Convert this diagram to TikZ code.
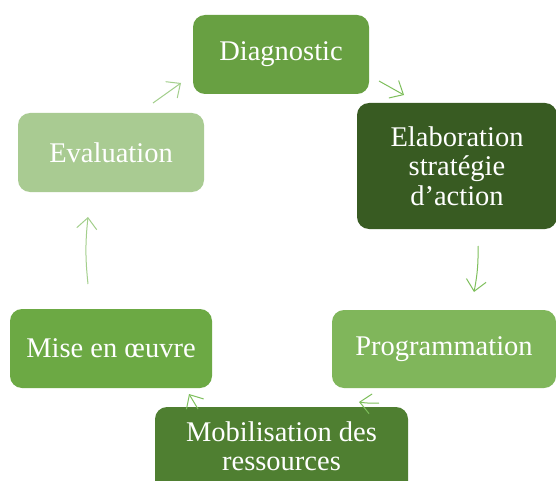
\documentclass[tikz,border=0pt]{standalone}
\usepackage{fontspec}
\setmainfont{Liberation Serif}
\usetikzlibrary{arrows.meta}
\definecolor{gDiag}{HTML}{68A042}
\definecolor{gElab}{HTML}{385B22}
\definecolor{gProg}{HTML}{80B65B}
\definecolor{gMob}{HTML}{4F7F31}
\definecolor{gMise}{HTML}{6CA944}
\definecolor{gEval}{HTML}{A9CB92}
\definecolor{gArrow}{HTML}{7EBF5C}
\definecolor{gArrowL}{HTML}{A3CF8C}
\tikzset{
  stagebox/.style={draw=none, rounded corners=12pt, text=white, align=center,
    font=\fontsize{28.5}{29.5}\selectfont, inner sep=0pt},
  stagetext/.style={text=white, align=center,
    font=\fontsize{28.5}{29.5}\selectfont, inner sep=0pt},
  cyc/.style={draw=gArrow, line width=1pt,
    -{Straight Barb[length=11pt, width=20pt, line width=1pt]}},
}
\begin{document}
\begin{tikzpicture}[x=1pt,y=-1pt]
\clip (0,0) rectangle (556,481);
\fill[white] (0,0) rectangle (556,481);
% stages of the cycle
\node[stagebox, fill=gDiag, minimum width=176pt, minimum height=79pt] (diag) at (281,54.5) {Diagnostic};
\node[stagebox, fill=gElab, minimum width=200pt, minimum height=126pt] (elab) at (457,166) {Elaboration\\strat\'egie\\d'action};
\node[stagebox, fill=gProg, minimum width=224pt, minimum height=78pt] (prog) at (444,349) {Programmation};
\node[stagebox, fill=gMob, minimum width=253pt, minimum height=100pt] (mob) at (281.5,457) {};
\node[stagetext] (mobtext) at (281.5,446) {Mobilisation des\\ressources};
\node[stagebox, fill=gMise, minimum width=202pt, minimum height=79pt] (mise) at (111,348.5) {Mise en œuvre};
\node[stagebox, fill=gEval, minimum width=186pt, minimum height=79pt] (eval) at (111,152.5) {Evaluation};
% connectors between the stages
\coordinate (a1s) at (153,103); \coordinate (a1e) at (181,83);
\coordinate (a2s) at (379,81);  \coordinate (a2e) at (404,95);
\coordinate (a3s) at (478,246); \coordinate (a3e) at (474,292);
\coordinate (a4s) at (379,403); \coordinate (a4e) at (359,402);
\coordinate (a5s) at (198,409); \coordinate (a5e) at (189,394);
\coordinate (a6s) at (88,284);  \coordinate (a6e) at (88,217);
\draw[cyc, draw=gArrowL] (a1s) -- (a1e);
\draw[cyc] (a2s) -- (a2e);
\draw[cyc] (a3s) to[bend left=6] (a3e);
\draw[cyc] (a4s) to[bend left=6] (a4e);
\draw[cyc] (a5s) -- (a5e);
\draw[cyc, draw=gArrowL] (a6s) to[bend left=6] (a6e);
\end{tikzpicture}
\end{document}
